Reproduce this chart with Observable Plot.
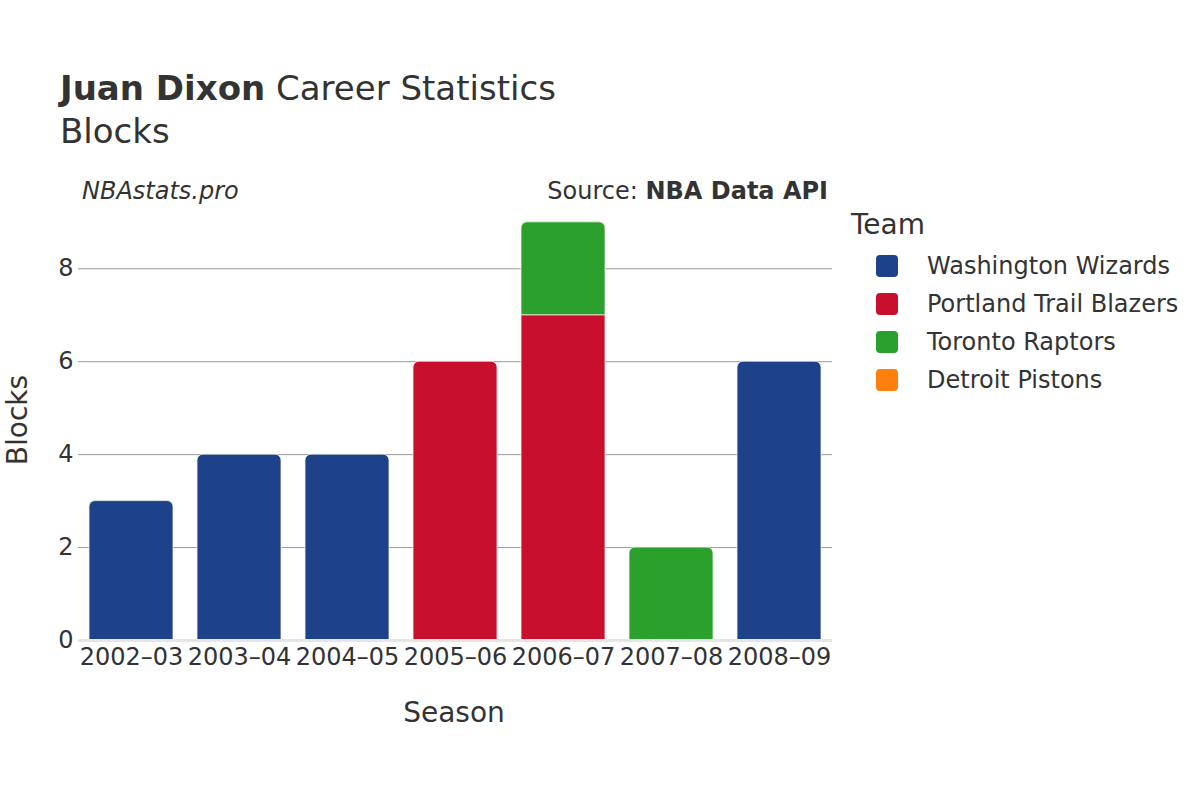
<!DOCTYPE html>
<html>
<head>
<meta charset="utf-8">
<script src="https://cdn.jsdelivr.net/npm/d3@7"></script>
<script src="https://cdn.jsdelivr.net/npm/@observablehq/plot@0.6"></script>
<style>
  body { margin: 0; background: #fff; font-family: "DejaVu Sans", sans-serif; color: #333; }
  #wrap { position: relative; width: 1200px; height: 800px; overflow: hidden; }
  #wrap svg { position: absolute; left: 0; top: 0; }
  .t { position: absolute; white-space: nowrap; color: #333; }
  #title { left: 60px; top: 68px; font-size: 34px; }
  #subtitle { left: 60px; top: 111px; font-size: 34px; }
  #brand { left: 82px; top: 177px; font-size: 24px; font-style: italic; }
  #source { right: 372px; top: 177px; font-size: 24px; }
  #ylab { left: 17px; top: 420px; font-size: 28px; transform: translate(-50%, -50%) rotate(-90deg); }
  #xlab { left: 454px; top: 712px; font-size: 28px; transform: translate(-50%, -50%); }
  #legend { left: 851px; top: 208px; }
  #legend .lt { font-size: 28px; margin-bottom: 6px; }
  #legend .it { display: flex; align-items: center; height: 38px; font-size: 24px; }
  #legend .sw { width: 22px; height: 22px; border-radius: 4px; margin-left: 25px; margin-right: 29px; }
</style>
</head>
<body>
<div id="wrap">
  <div class="t" id="title"><b>Juan Dixon</b> Career Statistics</div>
  <div class="t" id="subtitle">Blocks</div>
  <div class="t" id="brand">NBAstats.pro</div>
  <div class="t" id="source">Source: <b>NBA Data API</b></div>
  <div class="t" id="ylab">Blocks</div>
  <div class="t" id="xlab">Season</div>
  <div class="t" id="legend"></div>
</div>
<script>
const seasons = ["2002–03", "2003–04", "2004–05", "2005–06", "2006–07", "2007–08", "2008–09"];
const teams = ["Washington Wizards", "Portland Trail Blazers", "Toronto Raptors", "Detroit Pistons"];
const teamColors = ["#1d428a", "#c8102e", "#2ca02c", "#ff7f0e"];
// one entry per season/team stint, in stacking order
const rowSeason = ["2002–03", "2003–04", "2004–05", "2005–06", "2006–07", "2006–07", "2007–08", "2007–08", "2008–09"];
const rowTeam = ["Washington Wizards", "Washington Wizards", "Washington Wizards", "Portland Trail Blazers", "Portland Trail Blazers", "Toronto Raptors", "Toronto Raptors", "Detroit Pistons", "Washington Wizards"];
const rowBlocks = [3, 4, 4, 6, 7, 2, 2, 0, 6];
const yTicks = [0, 2, 4, 6, 8];

// build table with cumulative stacking
const cum = new Map();
const rows = rowSeason.map((s, i) => {
  const base = cum.get(s) || 0;
  cum.set(s, base + rowBlocks[i]);
  return {season: s, team: rowTeam[i], blocks: rowBlocks[i], y1: base, y2: base + rowBlocks[i]};
});
// mark top segment of each season
const lastIdx = new Map();
rows.forEach((r, i) => { if (r.blocks > 0) lastIdx.set(r.season, i); });
rows.forEach((r, i) => { r.top = lastIdx.get(r.season) === i; });
const nonzero = rows.filter(r => r.blocks > 0);

const chart = Plot.plot({
  width: 1200,
  height: 800,
  marginLeft: 78,
  marginRight: 368,
  marginTop: 200,
  marginBottom: 160,
  style: {fontFamily: "DejaVu Sans, sans-serif", fontSize: "24px", color: "#333", background: "transparent"},
  x: {domain: seasons, paddingInner: 0.22, paddingOuter: 0.08, label: null},
  y: {domain: [0, 9.47], label: null},
  color: {domain: teams, range: teamColors},
  marks: [
    Plot.ruleY(yTicks.filter(d => d > 0), {stroke: "#999", strokeWidth: 1}),
    Plot.rectY(nonzero.filter(d => !d.top), {x: "season", y1: "y1", y2: "y2", fill: "team", stroke: "#f4f0e8", strokeWidth: 0.8}),
    Plot.rectY(nonzero.filter(d => d.top), {x: "season", y1: "y1", y2: "y2", fill: "team", stroke: "#f4f0e8", strokeWidth: 0.8, rx1y2: 6, rx2y2: 6}),
    Plot.ruleY([0], {stroke: "#e6e6e6", strokeWidth: 3}),
    Plot.axisX({tickSize: 0, tickPadding: 7, fontSize: 24, label: null}),
    Plot.axisY({ticks: yTicks, tickSize: 0, tickPadding: 5, fontSize: 24, label: null, tickFormat: d3.format("d")})
  ]
});
document.getElementById("wrap").prepend(chart);

const legend = document.getElementById("legend");
legend.innerHTML = `<div class="lt">Team</div>` + teams.map((t, i) =>
  `<div class="it"><span class="sw" style="background:${teamColors[i]}"></span>${t}</div>`).join("");
</script>
</body>
</html>
